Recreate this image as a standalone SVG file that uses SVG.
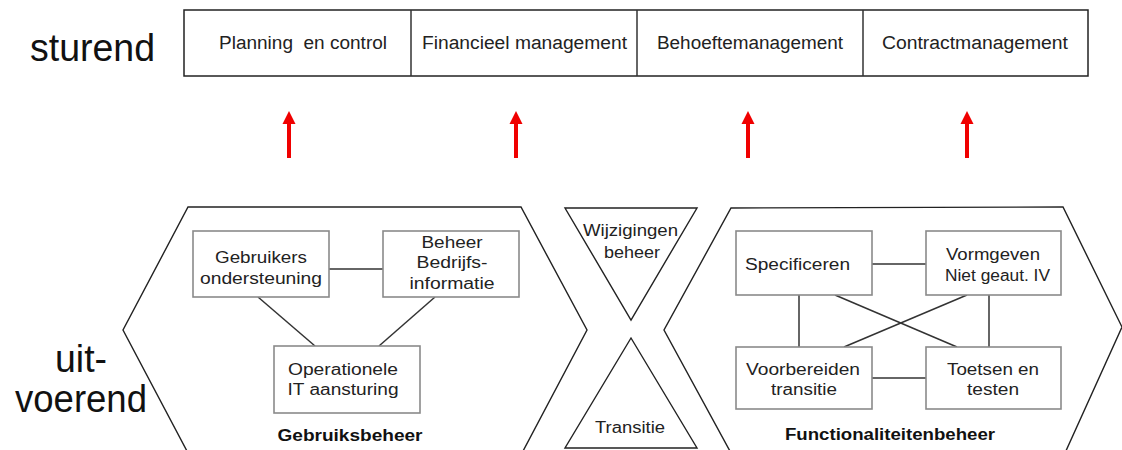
<svg xmlns="http://www.w3.org/2000/svg" width="1122" height="450" viewBox="0 0 1122 450">
  <style>
    .t{font-family:"Liberation Sans",Arial,sans-serif;fill:#222;}
    .big{font-size:38px;fill:#111;}
    .top{font-size:18px;text-anchor:middle;white-space:pre;}
    .bx{font-size:16px;text-anchor:middle;}
    .bold{font-size:16px;font-weight:bold;text-anchor:middle;fill:#111;}
    .frame{fill:#fff;stroke:#222;stroke-width:1.5;}
    .hex{fill:none;stroke:#222;stroke-width:1.4;stroke-linejoin:miter;}
    .box{fill:#fff;stroke:#8a8a8a;stroke-width:1.6;}
    .con{stroke:#333;stroke-width:1.5;fill:none;}
    .arr{stroke:#f00000;stroke-width:4;fill:none;}
  </style>
  <defs>
    <marker id="ah" markerUnits="userSpaceOnUse" markerWidth="14" markerHeight="14" viewBox="0 0 14 14" refX="1" refY="7" orient="auto">
      <polygon points="0,0.5 13,7 0,13.5" fill="#f00000"/>
    </marker>
  </defs>
  <rect width="1122" height="450" fill="#fff"/>

  <text class="t big" x="30" y="61" textLength="125" lengthAdjust="spacingAndGlyphs">sturend</text>
  <text class="t big" x="55" y="372" textLength="52" lengthAdjust="spacingAndGlyphs">uit-</text>
  <text class="t big" x="15" y="412" textLength="132" lengthAdjust="spacingAndGlyphs">voerend</text>

  <g id="top-bar">
    <rect class="frame" x="184" y="10" width="904" height="66"/>
    <line class="con" x1="411" y1="10" x2="411" y2="76"/>
    <line class="con" x1="637" y1="10" x2="637" y2="76"/>
    <line class="con" x1="863" y1="10" x2="863" y2="76"/>
  </g>
  <g id="planning"><text class="t top" x="303" y="49" textLength="168" lengthAdjust="spacingAndGlyphs" xml:space="preserve">Planning  en control</text></g>
  <g id="financieel"><text class="t top" x="524.5" y="49" textLength="205" lengthAdjust="spacingAndGlyphs">Financieel management</text></g>
  <g id="behoefte"><text class="t top" x="750" y="49" textLength="186" lengthAdjust="spacingAndGlyphs">Behoeftemanagement</text></g>
  <g id="contract"><text class="t top" x="975" y="49" textLength="186" lengthAdjust="spacingAndGlyphs">Contractmanagement</text></g>

  <g id="arrows">
    <line class="arr" x1="289" y1="158" x2="289" y2="123" marker-end="url(#ah)"/>
    <line class="arr" x1="516" y1="158" x2="516" y2="123" marker-end="url(#ah)"/>
    <line class="arr" x1="748" y1="158" x2="748" y2="123" marker-end="url(#ah)"/>
    <line class="arr" x1="967" y1="158" x2="967" y2="123" marker-end="url(#ah)"/>
  </g>

  <g id="gebruiksbeheer">
    <polygon class="hex" points="188,207 521,207 587,330 522,453 188,453 123,330"/>
    <text class="t bold" x="350" y="441" textLength="145" lengthAdjust="spacingAndGlyphs">Gebruiksbeheer</text>
  </g>
  <g id="wijzigingenbeheer">
    <polygon class="hex" points="565,208 697,208 631,320"/>
    <text class="t bx" x="630.5" y="236" textLength="95" lengthAdjust="spacingAndGlyphs">Wijzigingen</text>
    <text class="t bx" x="632" y="258" textLength="56" lengthAdjust="spacingAndGlyphs">beheer</text>
  </g>
  <g id="transitie">
    <polygon class="hex" points="631,338 697,448 565,448"/>
    <text class="t bx" x="630" y="433" textLength="70" lengthAdjust="spacingAndGlyphs">Transitie</text>
  </g>
  <g id="functionaliteitenbeheer">
    <polygon class="hex" points="731,208 1063,207 1122,327 1065,453 731,453 664,330"/>
    <text class="t bold" x="890" y="440" textLength="210" lengthAdjust="spacingAndGlyphs">Functionaliteitenbeheer</text>
  </g>

  <g id="connectors">
    <line class="con" x1="329" y1="269" x2="383" y2="269"/>
    <line class="con" x1="258" y1="297" x2="315" y2="346"/>
    <line class="con" x1="435" y1="297" x2="379" y2="346"/>
    <line class="con" x1="872" y1="264" x2="926" y2="264"/>
    <line class="con" x1="872" y1="378" x2="926" y2="378"/>
    <line class="con" x1="799" y1="295" x2="799" y2="347"/>
    <line class="con" x1="989" y1="295" x2="989" y2="347"/>
    <line class="con" x1="835" y1="295" x2="957" y2="347"/>
    <line class="con" x1="967" y1="295" x2="844" y2="347"/>
  </g>

  <g id="gebruikers-ondersteuning">
    <rect class="box" x="193" y="231" width="136" height="66"/>
    <text class="t bx" x="261" y="263" textLength="92" lengthAdjust="spacingAndGlyphs">Gebruikers</text>
    <text class="t bx" x="261" y="284" textLength="122" lengthAdjust="spacingAndGlyphs">ondersteuning</text>
  </g>
  <g id="beheer-bedrijfsinformatie">
    <rect class="box" x="383" y="231" width="136" height="66"/>
    <text class="t bx" x="452" y="248" textLength="61" lengthAdjust="spacingAndGlyphs">Beheer</text>
    <text class="t bx" x="452" y="268" textLength="71" lengthAdjust="spacingAndGlyphs">Bedrijfs-</text>
    <text class="t bx" x="452" y="289" textLength="85" lengthAdjust="spacingAndGlyphs">informatie</text>
  </g>
  <g id="operationele-it">
    <rect class="box" x="274" y="346" width="146" height="67"/>
    <text class="t bx" x="343" y="375" textLength="110" lengthAdjust="spacingAndGlyphs">Operationele</text>
    <text class="t bx" x="343" y="395" textLength="111" lengthAdjust="spacingAndGlyphs">IT aansturing</text>
  </g>
  <g id="specificeren">
    <rect class="box" x="736" y="231" width="136" height="64"/>
    <text class="t bx" x="797.5" y="270" textLength="105" lengthAdjust="spacingAndGlyphs">Specificeren</text>
  </g>
  <g id="vormgeven">
    <rect class="box" x="926" y="231" width="135" height="64"/>
    <text class="t bx" x="993" y="260" textLength="94" lengthAdjust="spacingAndGlyphs">Vormgeven</text>
    <text class="t bx" x="997.5" y="281" textLength="105" lengthAdjust="spacingAndGlyphs">Niet geaut. IV</text>
  </g>
  <g id="voorbereiden-transitie">
    <rect class="box" x="736" y="347" width="136" height="62"/>
    <text class="t bx" x="803" y="375" textLength="114" lengthAdjust="spacingAndGlyphs">Voorbereiden</text>
    <text class="t bx" x="804" y="395" textLength="66" lengthAdjust="spacingAndGlyphs">transitie</text>
  </g>
  <g id="toetsen-testen">
    <rect class="box" x="926" y="347" width="135" height="62"/>
    <text class="t bx" x="993" y="375" textLength="92" lengthAdjust="spacingAndGlyphs">Toetsen en</text>
    <text class="t bx" x="993" y="395" textLength="52" lengthAdjust="spacingAndGlyphs">testen</text>
  </g>
</svg>
